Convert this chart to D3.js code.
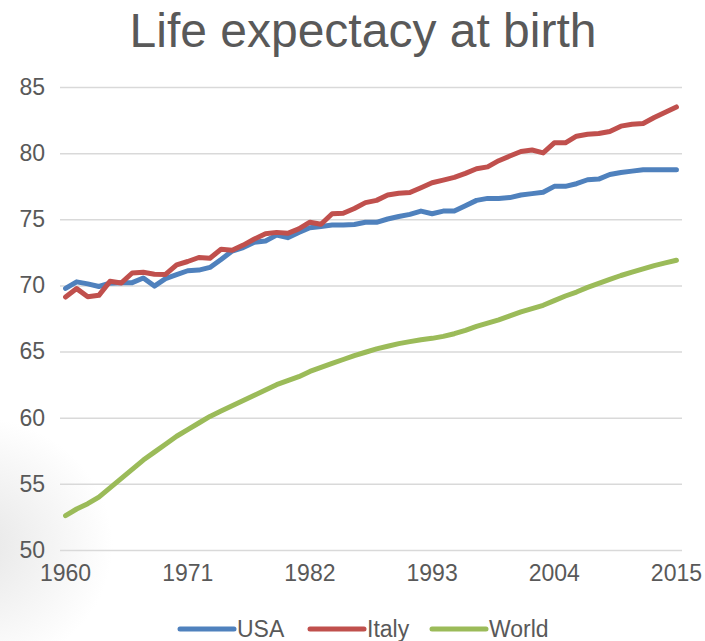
<!DOCTYPE html>
<html>
<head>
<meta charset="utf-8">
<script src="https://cdn.jsdelivr.net/npm/d3@7"></script>
<style>
  html, body { margin: 0; padding: 0; background: #fff; }
  svg { display: block; font-family: 'Liberation Sans', Arial, sans-serif; }
</style>
</head>
<body>
<div id="chart"></div>
<script>
'use strict'

const years = d3.range(1960, 2016)
const tickYears = [1960, 1971, 1982, 1993, 2004, 2015]
const yTicks = [50, 55, 60, 65, 70, 75, 80, 85]

const usa = [69.77, 70.27, 70.12, 69.92, 70.17, 70.21, 70.21, 70.56, 69.95, 70.51,
  70.81, 71.11, 71.16, 71.36, 71.96, 72.60, 72.86, 73.26, 73.36, 73.80,
  73.61, 74.01, 74.36, 74.46, 74.56, 74.56, 74.61, 74.77, 74.77, 75.02,
  75.21, 75.37, 75.62, 75.42, 75.62, 75.62, 76.03, 76.43, 76.58, 76.58,
  76.64, 76.84, 76.94, 77.04, 77.49, 77.49, 77.69, 77.99, 78.04, 78.39,
  78.54, 78.64, 78.74, 78.74, 78.74, 78.74]
const italy = [69.12, 69.76, 69.15, 69.25, 70.31, 70.18, 70.94, 70.99, 70.85, 70.83,
  71.56, 71.81, 72.11, 72.06, 72.73, 72.66, 73.05, 73.51, 73.91, 74.01,
  73.94, 74.27, 74.78, 74.62, 75.42, 75.46, 75.82, 76.26, 76.43, 76.83,
  76.97, 77.02, 77.39, 77.76, 77.96, 78.17, 78.47, 78.82, 78.96, 79.43,
  79.78, 80.12, 80.24, 80.02, 80.78, 80.78, 81.28, 81.43, 81.49, 81.64,
  82.04, 82.19, 82.24, 82.69, 83.09, 83.49]
const world = [52.6, 53.1, 53.5, 54.0, 54.7, 55.4, 56.1, 56.8, 57.4, 58.0,
  58.6, 59.1, 59.6, 60.1, 60.5, 60.9, 61.3, 61.7, 62.1, 62.5,
  62.8, 63.1, 63.5, 63.8, 64.1, 64.4, 64.7, 64.95, 65.2, 65.4,
  65.6, 65.75, 65.9, 66.0, 66.15, 66.35, 66.6, 66.9, 67.15, 67.4,
  67.7, 68.0, 68.25, 68.5, 68.85, 69.2, 69.5, 69.85, 70.15, 70.45,
  70.75, 71.0, 71.25, 71.5, 71.7, 71.9]

const seriesNames = ['USA', 'Italy', 'World']
const seriesColors = ['#4f81bd', '#c0504d', '#9bbb59']
const seriesValues = [usa, italy, world]

const width = 705
const height = 641
const margin = { top: 87, right: 23, bottom: 91, left: 60 }

const svg = d3.select('#chart').append('svg')
  .attr('width', width)
  .attr('height', height)

// faint grey shading on the left edge, like the slide background
const defs = svg.append('defs')
const grad = defs.append('radialGradient')
  .attr('id', 'shade')
  .attr('cx', -0.04).attr('cy', 0.85).attr('r', 0.2)
grad.append('stop').attr('offset', '0%').attr('stop-color', '#e6e6e6')
grad.append('stop').attr('offset', '100%').attr('stop-color', '#ffffff')
svg.append('rect')
  .attr('width', width)
  .attr('height', height)
  .attr('fill', 'url(#shade)')

const x = d3.scaleBand()
  .domain(years)
  .range([margin.left, width - margin.right])

const y = d3.scaleLinear()
  .domain([50, 85])
  .range([height - margin.bottom, margin.top])

const cx = d => x(d) + x.bandwidth() / 2

// gridlines + y labels
const yAxis = svg.append('g')
  .attr('transform', 'translate(' + margin.left + ',0)')
  .call(d3.axisLeft(y)
    .tickValues(yTicks)
    .tickSize(-(width - margin.left - margin.right))
    .tickPadding(15))
yAxis.select('.domain').remove()
yAxis.selectAll('.tick line')
  .attr('stroke', '#d9d9d9')
  .attr('stroke-width', 1.5)
yAxis.selectAll('.tick text')
  .attr('fill', '#595959')
  .style('font-size', '23px')

// x labels
const xAxis = svg.append('g')
  .attr('transform', 'translate(0,' + (height - margin.bottom) + ')')
  .call(d3.axisBottom(x)
    .tickValues(tickYears)
    .tickSize(0)
    .tickPadding(15))
xAxis.select('.domain').remove()
xAxis.selectAll('.tick text')
  .attr('fill', '#595959')
  .style('font-size', '23px')

const line = d3.line()
  .x((d, i) => cx(years[i]))
  .y(d => y(d))

svg.selectAll('path.series')
  .data(seriesValues)
  .enter()
  .append('path')
  .attr('class', 'series')
  .attr('d', line)
  .attr('fill', 'none')
  .attr('stroke', (d, i) => seriesColors[i])
  .attr('stroke-width', 5)
  .attr('stroke-linecap', 'round')
  .attr('stroke-linejoin', 'round')

// title
svg.append('text')
  .attr('x', 363)
  .attr('y', 47)
  .attr('text-anchor', 'middle')
  .attr('fill', '#595959')
  .style('font-size', '48px')
  .text('Life expectacy at birth')

// legend
const legendX = [180, 310, 432]
const legend = svg.selectAll('g.legend')
  .data(seriesNames)
  .enter()
  .append('g')
  .attr('class', 'legend')
  .attr('transform', (d, i) => 'translate(' + legendX[i] + ',629)')

legend.append('line')
  .attr('x1', 0).attr('x2', 54)
  .attr('stroke', (d, i) => seriesColors[i])
  .attr('stroke-width', 5)
  .attr('stroke-linecap', 'round')

legend.append('text')
  .attr('x', 57)
  .attr('y', 8)
  .attr('fill', '#595959')
  .style('font-size', '23px')
  .text(d => d)
</script>
</body>
</html>
